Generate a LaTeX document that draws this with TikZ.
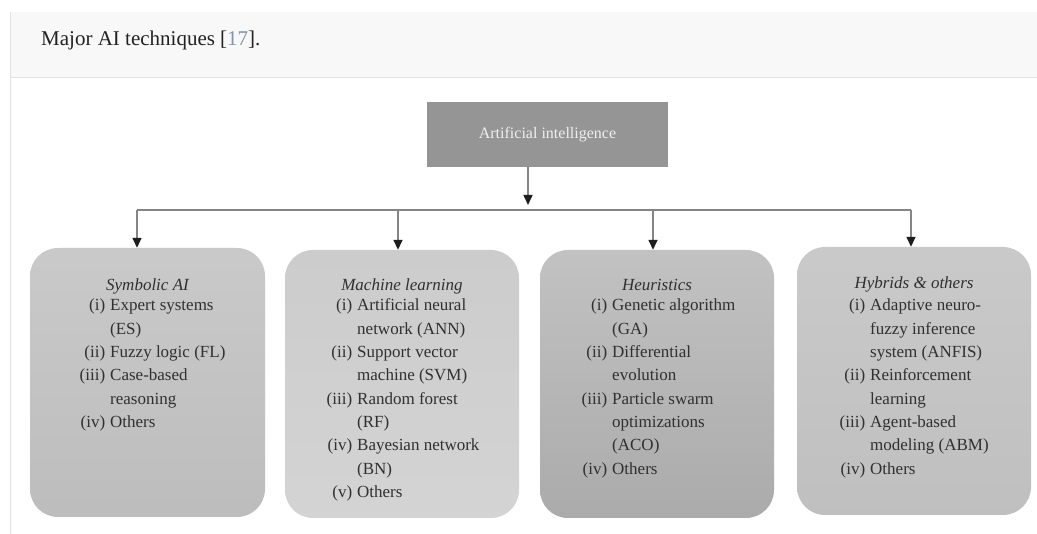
\documentclass[tikz,border=0pt]{standalone}
\usepackage{fontspec}
\setmainfont{Liberation Serif}
\usetikzlibrary{arrows.meta}
\definecolor{bandgray}{HTML}{F8F8F8}
\definecolor{edgegray}{HTML}{E2E2E2}
\definecolor{titlecol}{HTML}{222222}
\definecolor{refblue}{HTML}{8094AC}
\definecolor{aifill}{HTML}{959595}
\definecolor{aitext}{HTML}{EFEFEF}
\definecolor{linecol}{HTML}{858585}
\definecolor{tipcol}{HTML}{1E1E1E}
\definecolor{txtcol}{HTML}{303030}
\newcommand\catlist[4]{%
  \foreach \lab/\txt [count=\i from 0] in {#4} {
    \node[itemtxt] (#1-\i) at (#2, #3+\i*23.3) {\llap{\lab\hspace{5pt}}\txt};
  }}
\begin{document}
\begin{tikzpicture}[x=1pt,y=-1pt,
  topbox/.style={fill=aifill, draw=none, minimum width=241pt, minimum height=65pt,
    inner sep=0, text=aitext, font=\fontsize{16}{19}\selectfont},
  catbox/.style={draw=none, rounded corners=28pt, minimum width=234pt, minimum height=268pt, inner sep=0},
  cattitle/.style={anchor=base, inner sep=0, text=txtcol, font=\fontsize{17}{20}\selectfont\itshape},
  itemtxt/.style={anchor=base west, inner sep=0, text=txtcol, font=\fontsize{17}{20}\selectfont},
  wire/.style={draw=linecol, line width=1.5pt},
  conn/.style={wire, -{Triangle[width=9pt,length=10pt,color=tipcol]}}
]
\useasboundingbox (0,0) rectangle (1037,534);
\fill[white] (0,0) rectangle (1037,534);
\fill[bandgray] (10,12) rectangle (1037,77);
\draw[edgegray, line width=1pt] (10,77.5) -- (1037,77.5);
\draw[edgegray, line width=1pt] (10,12) -- (10,534);

\node[anchor=base west, inner sep=0, text=titlecol, font=\fontsize{21}{25}\selectfont] (title) at (41,46) {Major AI techniques [\textcolor{refblue}{17}].};

\node[topbox] (ai) at (547.5,134.5) {Artificial intelligence};

\node[catbox, top color=black!21, bottom color=black!26] (b1) at (147.5,382.5) [minimum width=235pt, minimum height=269pt] {};
\node[catbox, top color=black!20, bottom color=black!17] (b2) at (402,384) {};
\node[catbox, top color=black!24, bottom color=black!33] (b3) at (657,384) {};
\node[catbox, top color=black!21, bottom color=black!25] (b4) at (914,381) {};

\coordinate (tip) at (528,205);
\coordinate (h1) at (137,210);
\coordinate (h2) at (398,210);
\coordinate (h3) at (653,210);
\coordinate (h4) at (911,210);
\draw[conn] (ai.south -| tip) -- (tip);
\draw[wire] (h1) -- (h4);
\draw[conn] (h1) -- (h1 |- b1.north);
\draw[conn] (h2) -- (h2 |- b2.north);
\draw[conn] (h3) -- (h3 |- b3.north);
\draw[conn] (h4) -- (h4 |- b4.north);

\node[cattitle] (t1) at (147.5,291) {Symbolic AI};
\node[cattitle] (t2) at (402,291) {Machine learning};
\node[cattitle] (t3) at (657,291) {Heuristics};
\node[cattitle] (t4) at (914,289) {Hybrids \& others};

\catlist{l1}{110}{311}{(i)/Expert systems, /(ES), (ii)/Fuzzy logic (FL), (iii)/Case-based, /reasoning, (iv)/Others}
\catlist{l2}{357}{311}{(i)/Artificial neural, /network (ANN), (ii)/Support vector, /machine (SVM), (iii)/Random forest, /(RF), (iv)/Bayesian network, /(BN), (v)/Others}
\catlist{l3}{612}{311}{(i)/Genetic algorithm, /(GA), (ii)/Differential, /evolution, (iii)/Particle swarm, /optimizations, /(ACO), (iv)/Others}
\catlist{l4}{870}{311}{(i)/Adaptive neuro-, /fuzzy inference, /system (ANFIS), (ii)/Reinforcement, /learning, (iii)/Agent-based, /modeling (ABM), (iv)/Others}
\end{tikzpicture}
\end{document}
